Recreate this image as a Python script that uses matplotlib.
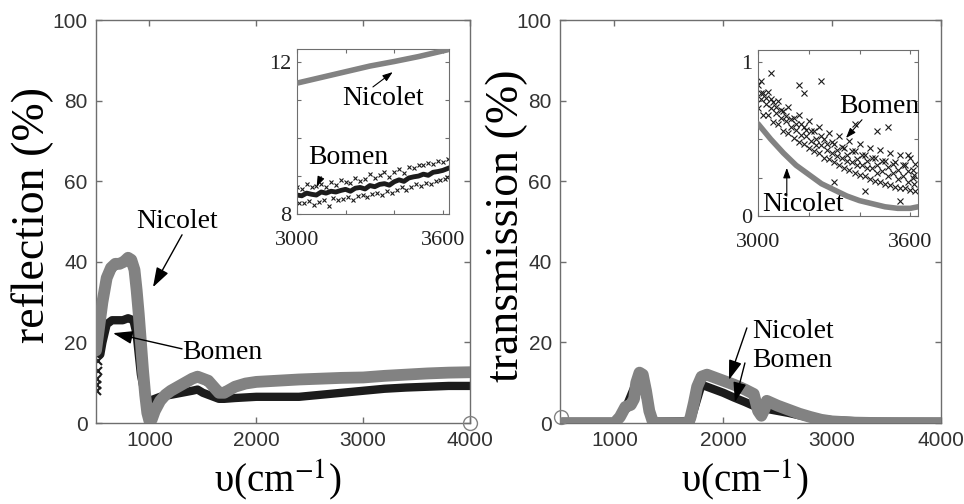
import matplotlib
matplotlib.use('Agg')
import matplotlib.pyplot as plt

### data
# reflection, main panel
refl_nic_x = [500, 530, 560, 600, 640, 680, 720, 760, 800, 830, 860, 880, 900, 920, 940, 960, 980,
              1000, 1020, 1050, 1100, 1150, 1200, 1300, 1400, 1450, 1500, 1550, 1600, 1650, 1700,
              1800, 1900, 2000, 2200, 2400, 2600, 2800, 3000, 3200, 3400, 3600, 3800, 4000]
refl_nic_y = [18, 24, 30, 36, 38.5, 39.5, 39.5, 40, 41, 40.5, 38, 33, 27, 20, 13, 7, 2.5,
              0.5, 0.8, 3, 5.5, 7, 8, 9.5, 11, 11.5, 11, 10.5, 9, 7.5, 7.5,
              9, 9.8, 10.2, 10.5, 10.8, 11, 11.2, 11.3, 11.7, 12, 12.3, 12.5, 12.6]
refl_bom_x = [540, 560, 600, 650, 700, 750, 800, 850, 880, 900, 920, 950, 980, 1000, 1050, 1100,
              1200, 1300, 1400, 1450, 1500, 1600, 1650, 1700, 1800, 2000, 2200, 2400, 2600, 2800,
              3000, 3200, 3400, 3600, 3800, 4000]
refl_bom_y = [17, 20, 24.5, 25.5, 25.5, 25.5, 26, 25.5, 22, 17, 12, 8, 6, 5.5, 6, 6.5,
              7, 7.5, 8, 8.3, 7.5, 6.5, 6, 6, 6.2, 6.5, 6.5, 6.5, 7, 7.5,
              8, 8.5, 8.8, 9, 9.2, 9.2]
refl_bom_edge_x = [510, 510, 512, 515, 518, 522]
refl_bom_edge_y = [8, 9.5, 11, 13, 15.5, 17]
refl_stray_x = [4000]
refl_stray_y = [0]

# transmission, main panel
tran_nic_x = [520, 600, 700, 800, 900, 1000, 1050, 1080, 1100, 1150, 1180, 1200, 1230, 1260,
              1290, 1320, 1350, 1380, 1500, 1600, 1680, 1700, 1730, 1760, 1800, 1850, 1900,
              2000, 2100, 2200, 2280, 2320, 2350, 2380, 2400, 2500, 2600, 2700, 2800, 2900,
              3000, 3200, 3400, 3600, 3800, 4000]
tran_nic_y = [0, 0, 0, 0, 0, 0, 1.5, 3, 4, 4.5, 6, 10, 12.5, 12,
              8, 3, 0.5, 0, 0, 0, 0, 1.5, 5, 9, 11.5, 12, 11.5,
              10.5, 9.5, 8.3, 7.2, 3, 1.8, 3.5, 5.5, 4.3, 3.3, 2.3, 1.5, 0.8,
              0.4, 0.1, 0, 0, 0, 0]
tran_bom_x = [520, 1000, 1100, 1230, 1350, 1700, 1800, 1850, 2000, 2100, 2200, 2300, 2400,
              2600, 2800, 3000, 3300, 3600, 4000]
tran_bom_y = [0, 0, 3.5, 12, 0.3, 0.5, 9.5, 9, 7.5, 6.3, 5.2, 4, 3.5,
              2.5, 1.3, 0.7, 0.35, 0.25, 0.2]
tran_stray_x = [505]
tran_stray_y = [1.5]

# insets (3000-3600 cm-1)
ins_x = [3000, 3020, 3040, 3060, 3080, 3100, 3120, 3140, 3160, 3180, 3200, 3220, 3240, 3260,
         3280, 3300, 3320, 3340, 3360, 3380, 3400, 3420, 3440, 3460, 3480, 3500, 3520, 3540,
         3560, 3580, 3600, 3620]
ins_x2 = [3010, 3030, 3050, 3070, 3090, 3110, 3130, 3150, 3170, 3190, 3210, 3230, 3250, 3270,
          3290, 3310, 3330, 3350, 3370, 3390, 3410, 3430, 3450, 3470, 3490, 3510, 3530, 3550,
          3570, 3590, 3610, 3615]

refl_in_nic_x = [3000, 3100, 3200, 3300, 3400, 3500, 3600, 3620]
refl_in_nic_y = [11.45, 11.6, 11.75, 11.9, 12.02, 12.15, 12.3, 12.33]
refl_in_bom_c = [8.50, 8.48, 8.55, 8.52, 8.50, 8.58, 8.55, 8.60, 8.58, 8.62, 8.65, 8.60, 8.68,
                 8.70, 8.66, 8.75, 8.72, 8.78, 8.80, 8.76, 8.85, 8.90, 8.86, 8.95, 8.98, 9.00,
                 9.05, 9.02, 9.10, 9.12, 9.15, 9.20]
refl_in_bom_a = [8.72, 8.65, 8.78, 8.70, 8.74, 8.80, 8.72, 8.85, 8.76, 8.90, 8.84, 8.82, 8.95,
                 8.88, 8.92, 9.05, 8.95, 9.02, 9.10, 8.98, 9.12, 9.18, 9.08, 9.25, 9.20, 9.30,
                 9.28, 9.35, 9.32, 9.40, 9.38, 9.45]
refl_in_bom_b = [8.30, 8.28, 8.35, 8.25, 8.32, 8.38, 8.20, 8.42, 8.36, 8.40, 8.45, 8.38, 8.48,
                 8.50, 8.44, 8.52, 8.55, 8.50, 8.60, 8.55, 8.62, 8.70, 8.64, 8.72, 8.78, 8.75,
                 8.82, 8.80, 8.88, 8.90, 8.92, 8.98]

tran_in_nic_x = [3000, 3050, 3100, 3150, 3200, 3250, 3300, 3350, 3400, 3450, 3500, 3550, 3600, 3630]
tran_in_nic_y = [0.60, 0.50, 0.41, 0.33, 0.27, 0.21, 0.17, 0.13, 0.10, 0.08, 0.06, 0.05, 0.05, 0.06]
tran_in_bom_a = [0.85, 0.80, 0.81, 0.74, 0.75, 0.68, 0.71, 0.64, 0.66, 0.58, 0.62, 0.55, 0.58,
                 0.50, 0.54, 0.47, 0.52, 0.44, 0.49, 0.42, 0.47, 0.40, 0.44, 0.38, 0.43, 0.36,
                 0.41, 0.35, 0.40, 0.33, 0.38, 0.34]
tran_in_bom_b = [0.76, 0.77, 0.70, 0.71, 0.64, 0.65, 0.58, 0.60, 0.53, 0.56, 0.49, 0.50, 0.46,
                 0.47, 0.41, 0.43, 0.38, 0.40, 0.35, 0.37, 0.33, 0.36, 0.31, 0.33, 0.29, 0.32,
                 0.28, 0.30, 0.26, 0.29, 0.25, 0.27]
tran_in_bom_c = [0.70, 0.66, 0.66, 0.61, 0.60, 0.55, 0.54, 0.51, 0.48, 0.47, 0.44, 0.42, 0.41,
                 0.38, 0.37, 0.35, 0.33, 0.31, 0.30, 0.28, 0.27, 0.26, 0.24, 0.23, 0.22, 0.21,
                 0.20, 0.19, 0.18, 0.18, 0.17, 0.16]
tran_in_bom_d = [0.80, 0.73, 0.76, 0.67, 0.69, 0.62, 0.63, 0.56, 0.60, 0.52, 0.55, 0.46, 0.52,
                 0.43, 0.48, 0.39, 0.45, 0.36, 0.42, 0.33, 0.40, 0.31, 0.38, 0.28, 0.36, 0.26,
                 0.34, 0.24, 0.33, 0.22, 0.30, 0.21]
tran_in_out_x = [3010, 3050, 3160, 3250, 3300, 3380, 3470, 3510, 3560, 3180, 3420, 3590]
tran_in_out_y = [0.88, 0.93, 0.85, 0.88, 0.22, 0.60, 0.55, 0.58, 0.10, 0.80, 0.16, 0.40]

GRAY = '#828282'
DARK = '#1c1c1c'
SPINE = '#6e6e6e'
SERIF = ['Liberation Serif', 'DejaVu Serif']
SANS = ['Liberation Sans', 'DejaVu Sans']

plt.rcParams['mathtext.fontset'] = 'stix'
plt.rcParams['font.family'] = SANS

fig = plt.figure(figsize=(9.64, 5.04), dpi=100)


def style_main(ax):
    for s in ax.spines.values():
        s.set_color(SPINE)
        s.set_linewidth(1)
    ax.tick_params(direction='in', length=4, width=1, color=SPINE, top=True, right=True,
                   labelsize=15, pad=6)
    ax.tick_params(axis='x', pad=6)
    ax.set_xlim(500, 4000)
    ax.set_ylim(0, 100)
    ax.set_xticks([1000, 2000, 3000, 4000])
    ax.set_yticks([0, 20, 40, 60, 80, 100])
    for lab in ax.get_xticklabels() + ax.get_yticklabels():
        lab.set_color('#333333')


def style_inset(ax):
    for s in ax.spines.values():
        s.set_color(SPINE)
        s.set_linewidth(0.8)
    ax.tick_params(direction='in', length=3, width=0.8, color=SPINE, top=True, right=True,
                   labelsize=16, pad=4)
    ax.tick_params(axis='x', pad=12)
    for lab in ax.get_xticklabels() + ax.get_yticklabels():
        lab.set_family(SERIF)
        lab.set_color('#222222')


def arrow(ax, head, tail, coords='data', big=True):
    if big:
        st = '-|>,head_length=0.6,head_width=0.2'
        ms, lw = 20, 1.0
    else:
        st = '-|>,head_length=0.5,head_width=0.18'
        ms, lw = 12, 0.8
    ax.annotate('', xy=head, xytext=tail, xycoords=coords, textcoords=coords,
                arrowprops=dict(arrowstyle=st, color='k', lw=lw, mutation_scale=ms,
                                shrinkA=0, shrinkB=0))


### reflection
ax1 = fig.add_axes([0.0996, 0.1607, 0.388, 0.7996])
ax1.plot(refl_bom_x, refl_bom_y, '-', color=DARK, lw=6, solid_capstyle='round',
         solid_joinstyle='round', zorder=2)
ax1.plot(refl_bom_edge_x, refl_bom_edge_y, 'x', color=DARK, ms=6, mew=1.5, zorder=2)
ax1.plot(refl_nic_x, refl_nic_y, '-', color=GRAY, lw=8.5, solid_capstyle='round',
         solid_joinstyle='round', zorder=3)
ax1.plot(refl_stray_x, refl_stray_y, 'o', mfc='none', mec=GRAY, ms=10, mew=1, clip_on=False, zorder=4)
style_main(ax1)
ax1.set_ylabel('reflection (%)', family=SERIF, fontsize=33, va='center')
ax1.yaxis.set_label_coords(-0.168, 0.515)
ax1.set_xlabel(r'υ(cm$^{-1}$)', family=SERIF, fontsize=28, va='center')
ax1.xaxis.set_label_coords(0.487, -0.142)
ax1.text(1258, 49.9, 'Nicolet', family=SERIF, fontsize=20, ha='center', va='center')
arrow(ax1, (1033, 33.7), (1305, 46.7))
ax1.text(1679, 17.4, 'Bomen', family=SERIF, fontsize=20, ha='center', va='center')
arrow(ax1, (659, 22.3), (1305, 18.4))

in1 = fig.add_axes([0.308, 0.5754, 0.1577, 0.3274])
in1.plot(ins_x, refl_in_bom_c, '-', color=DARK, lw=3.5, zorder=2)
in1.plot(ins_x, refl_in_bom_a, 'x', color=DARK, ms=3.5, mew=0.8, zorder=2)
in1.plot(ins_x2, refl_in_bom_b, 'x', color=DARK, ms=3.5, mew=0.8, zorder=2)
in1.plot(refl_in_nic_x, refl_in_nic_y, '-', color=GRAY, lw=4, solid_capstyle='round', zorder=3)
in1.set_xlim(3000, 3625)
in1.set_ylim(8, 12.35)
in1.set_xticks([3000, 3200, 3400, 3600])
in1.set_xticklabels(['3000', '', '', '3600'])
in1.set_yticks([8, 9, 10, 11, 12])
in1.set_yticklabels(['8', '', '', '', '12'])
style_inset(in1)
in1.text(0.566, 0.70, 'Nicolet', transform=in1.transAxes, family=SERIF, fontsize=20,
         ha='center', va='center')
arrow(in1, (0.63, 0.86), (0.50, 0.77), coords='axes fraction', big=False)
in1.text(0.336, 0.34, 'Bomen', transform=in1.transAxes, family=SERIF, fontsize=20,
         ha='center', va='center')
arrow(in1, (0.13, 0.166), (0.16, 0.226), coords='axes fraction', big=False)

### transmission
ax2 = fig.add_axes([0.581, 0.1607, 0.395, 0.7996])
ax2.plot(tran_bom_x, tran_bom_y, '-', color=DARK, lw=6, solid_capstyle='round',
         solid_joinstyle='round', zorder=2)
ax2.plot(tran_nic_x, tran_nic_y, '-', color=GRAY, lw=8.5, solid_capstyle='round',
         solid_joinstyle='round', zorder=3)
ax2.plot(tran_stray_x, tran_stray_y, 'o', mfc='none', mec=GRAY, ms=10, mew=1, clip_on=False, zorder=4)
style_main(ax2)
ax2.set_ylabel('transmission (%)', family=SERIF, fontsize=33, va='center')
ax2.yaxis.set_label_coords(-0.139, 0.49)
ax2.set_xlabel(r'υ(cm$^{-1}$)', family=SERIF, fontsize=28, va='center')
ax2.xaxis.set_label_coords(0.486, -0.142)
ax2.text(2263, 22.6, 'Nicolet', family=SERIF, fontsize=20, ha='left', va='center')
ax2.text(2263, 15.6, 'Bomen', family=SERIF, fontsize=20, ha='left', va='center')
arrow(ax2, (2052, 10.7), (2217, 23.6))
arrow(ax2, (2107, 5.2), (2199, 14.9))

in2 = fig.add_axes([0.7863, 0.5714, 0.166, 0.3294])
for yy, xx in [(tran_in_bom_a, ins_x), (tran_in_bom_b, ins_x2), (tran_in_bom_c, ins_x),
               (tran_in_bom_d, ins_x2)]:
    in2.plot(xx, yy, 'x', color=DARK, ms=4, mew=0.8, zorder=2)
in2.plot(tran_in_out_x, tran_in_out_y, 'x', color=DARK, ms=4, mew=0.8, zorder=2)
in2.plot(tran_in_nic_x, tran_in_nic_y, '-', color=GRAY, lw=4, solid_capstyle='round', zorder=3)
in2.set_xlim(3000, 3630)
in2.set_ylim(0, 1.08)
in2.set_xticks([3000, 3200, 3400, 3600])
in2.set_xticklabels(['3000', '', '', '3600'])
in2.set_yticks([0, 0.25, 0.5, 0.75, 1])
in2.set_yticklabels(['0', '', '', '', '1'])
style_inset(in2)
in2.text(0.76, 0.66, 'Bomen', transform=in2.transAxes, family=SERIF, fontsize=20,
         ha='center', va='center')
arrow(in2, (0.55, 0.47), (0.65, 0.58), coords='axes fraction', big=False)
in2.text(0.28, 0.07, 'Nicolet', transform=in2.transAxes, family=SERIF, fontsize=20,
         ha='center', va='center')
arrow(in2, (0.18, 0.29), (0.18, 0.12), coords='axes fraction', big=False)

plt.savefig('out.png', dpi=100)
